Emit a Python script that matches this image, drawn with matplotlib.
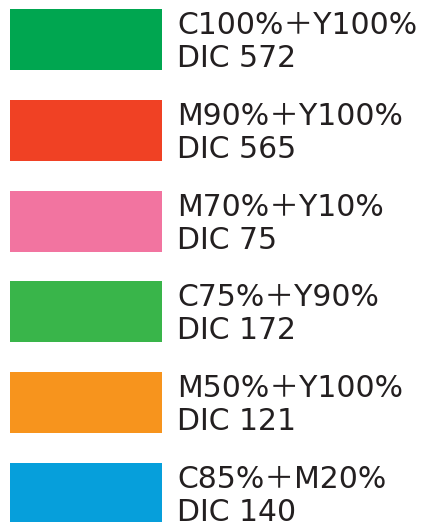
import matplotlib.pyplot as plt

# Swatch data
codes = ['C100%＋Y100%', 'M90%＋Y100%', 'M70%＋Y10%', 'C75%＋Y90%', 'M50%＋Y100%', 'C85%＋M20%']
dic_numbers = ['DIC 572', 'DIC 565', 'DIC 75', 'DIC 172', 'DIC 121', 'DIC 140']
colors = ['#00A650', '#F04124', '#F274A0', '#39B54A', '#F7941D', '#069FDB']

plt.rcParams['font.family'] = ['DejaVu Sans', 'Noto Sans CJK JP']

fig = plt.figure(figsize=(4.22, 5.22), dpi=100)
ax = fig.add_axes([0, 0, 1, 1])
ax.set_xlim(0, 422)
ax.set_ylim(522, 0)
ax.axis('off')

top = 9
step = 90.8
h = 61
for i, (code, dic, c) in enumerate(zip(codes, dic_numbers, colors)):
    y = top + i * step
    ax.barh(y + h / 2, 152, height=h, left=10, color=c)
    ax.text(177, y + 25, code, fontsize=21.5, color='#231f20', va='baseline', ha='left')
    ax.text(177, y + 58, dic, fontsize=21.5, color='#231f20', va='baseline', ha='left')

fig.savefig('out.png', dpi=100)
